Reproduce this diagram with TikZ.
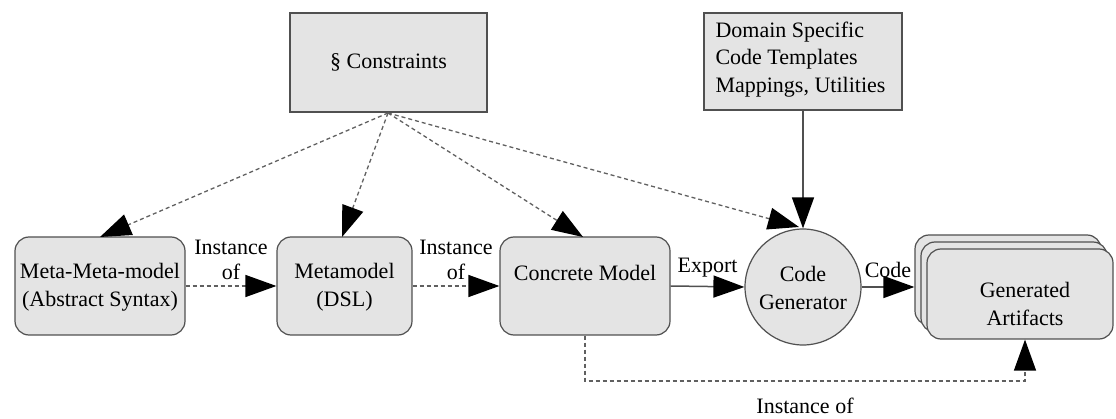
\documentclass[tikz,border=0pt]{standalone}
\usepackage{fontspec}
\setmainfont{Liberation Serif}
\usetikzlibrary{arrows.meta}
\definecolor{boxfill}{HTML}{E4E4E4}
\definecolor{boxline}{HTML}{505050}
\definecolor{dashline}{HTML}{606060}
\begin{document}
\begin{tikzpicture}[x=1pt,y=-1pt,
  txt/.style={font=\fontsize{22}{27.5}\selectfont, align=center, text=black},
  sqbox/.style={draw=boxline, line width=1.4pt, fill=boxfill, inner sep=0pt},
  rbox/.style={draw=boxline, line width=1.2pt, fill=boxfill, rounded corners=14pt, inner sep=0pt},
  tip/.style={-{Triangle[length=31pt,width=22pt,color=black,fill=black]}},
  dep/.style={tip, dashed, dash pattern=on 4pt off 3pt, draw=dashline, line width=1.3pt},
  flow/.style={tip, draw=boxline, line width=1.5pt},
  lbl/.style={font=\fontsize{22}{25}\selectfont, align=center, text=black, inner sep=0pt}
]
\useasboundingbox (0,0) rectangle (1116,419);
% top boxes
\node[sqbox, minimum width=197pt, minimum height=99pt] (con) at (388.5,62.5) {};
\node[txt] at (con.center) {\S\ Constraints};
\node[sqbox, minimum width=198pt, minimum height=97pt] (dom) at (803,61.5) {};
\node[txt, align=left, anchor=north west] at (712,18) {Domain Specific\\Code Templates\\Mappings, Utilities};
% bottom row
\node[rbox, minimum width=170pt, minimum height=98pt] (mm) at (100,286) {};
\node[txt] at (100,287) {Meta-Meta-model\\(Abstract Syntax)};
\node[rbox, minimum width=135pt, minimum height=98pt] (meta) at (344.5,286) {};
\node[txt] at (344.5,287) {Metamodel\\(DSL)};
\node[rbox, minimum width=170pt, minimum height=98pt] (conc) at (585,286) {};
\node[txt] at (585,273) {Concrete Model};
\node[circle, draw=boxline, line width=1.2pt, fill=boxfill, minimum size=116pt, inner sep=0pt] (gen) at (803,287) {};
\node[txt] at (803,288) {Code\\Generator};
% stacked artifacts
\node[rbox, minimum width=186pt, minimum height=90pt] (art3) at (1008,280) {};
\node[rbox, minimum width=186pt, minimum height=90pt] (art2) at (1014,287) {};
\node[rbox, minimum width=186pt, minimum height=90pt] (art) at (1020,294) {};
\node[txt] at (1025,304) {Generated\\Artifacts};
% coordinates
\coordinate (cs) at (388,113);
\coordinate (mmt) at (100,237);
\coordinate (metat) at (342,237);
\coordinate (conct) at (583,237);
\coordinate (gent) at (799,227);
\coordinate (bend1) at (585,381);
\coordinate (bend2) at (1025,381);
% constraints arrows
\draw[dep] (cs) -- (mmt);
\draw[dep] (cs) -- (metat);
\draw[dep] (cs) -- (conct);
\draw[dep] (cs) -- (gent);
\draw[flow] (dom.south -| gen.north) -- (gen.north);
% horizontal arrows
\draw[dep] (mm.east) -- (meta.west) node[lbl, midway, above=6pt] {Instance\\of};
\draw[dep] (meta.east) -- (conc.west) node[lbl, midway, above=6pt] {Instance\\of};
\draw[flow] (conc.east) -- (gen.west) node[lbl, midway, above=9pt] {Export};
\draw[flow] (gen.east) -- (art3.west |- gen.east) node[lbl, midway, above=9pt] {Code};
% bottom instance-of
\draw[dep] (conc.south) -- (bend1) -- (bend2) -- (bend2 |- art.south);
\node[lbl] (inst) at (805,406) {Instance of};
\end{tikzpicture}
\end{document}
